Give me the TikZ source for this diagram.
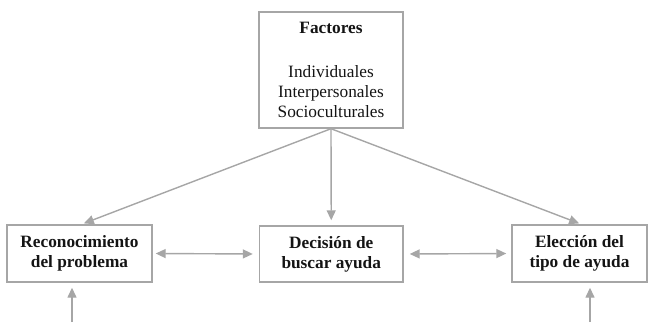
\documentclass[tikz,border=0pt]{standalone}
\usepackage{fontspec}
\setmainfont{Liberation Serif}
\usetikzlibrary{arrows.meta}
\definecolor{linegray}{RGB}{166,166,166}
\definecolor{txt}{RGB}{20,20,20}
\tikzset{
  box/.style={draw=linegray, line width=1.4pt, align=center, inner sep=0pt, text=txt,
              font=\fontsize{17.3}{20}\selectfont},
  conn/.style={draw=linegray, line width=1.4pt, -{Triangle[length=10pt,width=9pt]}},
  dconn/.style={draw=linegray, line width=1.4pt, {Triangle[length=10pt,width=9pt]}-{Triangle[length=10pt,width=9pt]}}
}
\begin{document}
\begin{tikzpicture}[x=1pt,y=-1pt]
\useasboundingbox (0,0) rectangle (648,322);
\node[box, minimum width=144pt, minimum height=116pt] (F) at (331,70)
  {\textbf{Factores}\\[24pt]Individuales\\Interpersonales\\Socioculturales};
\node[box, minimum width=145pt, minimum height=57pt] (L) at (79.5,253.5)
  {\textbf{Reconocimiento}\\\textbf{del problema}};
\node[box, minimum width=143.5pt, minimum height=56pt] (M) at (331.25,254)
  {\textbf{Decisión de}\\\textbf{buscar ayuda}};
\node[box, minimum width=135pt, minimum height=57pt] (R) at (579.5,253.5)
  {\textbf{Elección del}\\\textbf{tipo de ayuda}};
\coordinate (lb) at (72,322);
\coordinate (rb) at (590,322);
\draw[conn, shorten >=2.5pt] (F.south) -- ([xshift=2pt]L.north);
\draw[conn, shorten >=5pt] (F.south) -- (M.north);
\draw[conn, shorten >=2.5pt] (F.south) -- ([xshift=2pt]R.north);
\draw[dconn, shorten <=3pt, shorten >=6pt] (L.east) -- (M.west);
\draw[dconn, shorten <=6pt, shorten >=5pt] (M.east) -- (R.west);
\draw[conn, shorten >=5pt] (lb) -- (lb |- L.south);
\draw[conn, shorten >=5pt] (rb) -- (rb |- R.south);
\end{tikzpicture}
\end{document}
